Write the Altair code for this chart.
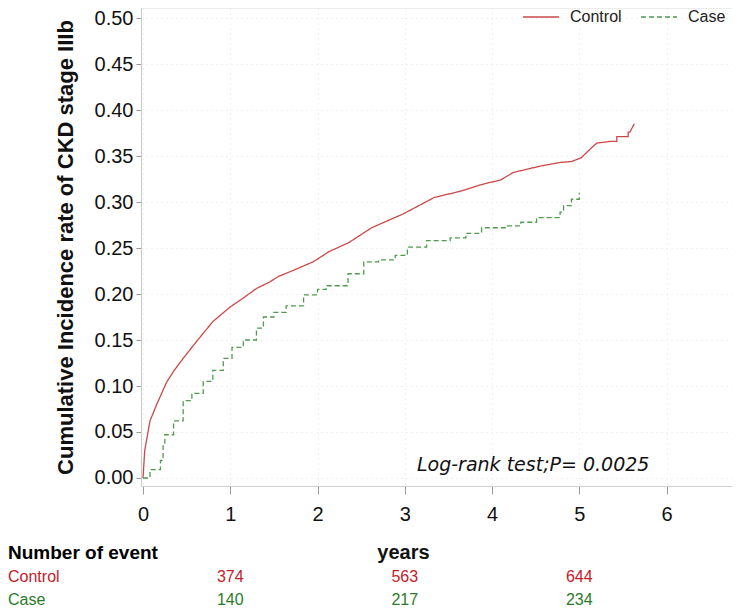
import altair as alt
import pandas as pd

# ---- data ----
ctrl_t = [0, 0.02, 0.08, 0.157, 0.27, 0.35, 0.46, 0.61, 0.8, 1.0, 1.14, 1.3, 1.45, 1.55, 1.73, 1.95,
          2.13, 2.36, 2.62, 2.98, 3.16, 3.34, 3.65, 3.88, 4.1, 4.24, 4.55, 4.78, 4.91, 5.02, 5.13,
          5.2, 5.36, 5.43, 5.43, 5.56, 5.56, 5.58, 5.63]
ctrl_v = [0, 0.03, 0.062, 0.08, 0.104, 0.116, 0.13, 0.148, 0.17, 0.186, 0.195, 0.206, 0.213, 0.219,
          0.226, 0.235, 0.246, 0.256, 0.272, 0.287, 0.296, 0.305, 0.312, 0.319, 0.324, 0.332, 0.339,
          0.343, 0.344, 0.348, 0.358, 0.364, 0.366, 0.366, 0.371, 0.371, 0.376, 0.376, 0.385]

case_t = [0, 0.08, 0.2, 0.23, 0.25, 0.35, 0.46, 0.56, 0.69, 0.8, 0.92, 1.02, 1.15, 1.3, 1.38, 1.5,
          1.64, 1.84, 2.0, 2.1, 2.35, 2.53, 2.7, 2.89, 3.03, 3.25, 3.52, 3.7, 3.88, 4.15, 4.33, 4.51,
          4.78, 4.82, 4.91, 5.0]
case_v = [0, 0.009, 0.019, 0.035, 0.047, 0.062, 0.084, 0.092, 0.105, 0.117, 0.13, 0.142, 0.15, 0.163,
          0.175, 0.18, 0.187, 0.199, 0.205, 0.209, 0.222, 0.235, 0.237, 0.242, 0.251, 0.258, 0.261,
          0.266, 0.272, 0.274, 0.278, 0.283, 0.289, 0.296, 0.303, 0.31]

series_names = ["Control", "Case"]
line_colors = ["#cc4848", "#4f9a4f"]
text_colors = ["#c4202a", "#2a7a2a"]

event_years = [1, 3, 5]
control_events = [374, 563, 644]
case_events = [140, 217, 234]

x_ticks = [0, 1, 2, 3, 4, 5, 6]
y_ticks = [0, 0.05, 0.10, 0.15, 0.20, 0.25, 0.30, 0.35, 0.40, 0.45, 0.50]

annot_text = ["Log-rank test;P= 0.0025"]
annot_t = [3.14]
annot_v = [0.014]

FONT = "Liberation Sans"

ctrl_df = pd.DataFrame({"t": ctrl_t, "v": ctrl_v, "series": "Control"})
case_df = pd.DataFrame({"t": case_t, "v": case_v, "series": "Case"})

xscale = alt.Scale(domain=[-0.023, 6.75], nice=False, zero=False)
yscale = alt.Scale(domain=[-0.0087, 0.5109], nice=False, zero=False)

leg = alt.Legend(orient="none", legendX=381, legendY=-10, direction="horizontal",
                 symbolType="stroke", symbolSize=1296, symbolStrokeWidth=1.5,
                 labelFontSize=16, labelFont=FONT, labelColor="#222",
                 labelOffset=10, columnPadding=16, padding=0)
color_enc = alt.Color("series:N", title=None,
                      scale=alt.Scale(domain=series_names, range=line_colors), legend=leg)
dash_enc = alt.StrokeDash("series:N", title=None,
                          scale=alt.Scale(domain=series_names, range=[[1, 0], [5, 3]]), legend=leg)

x_enc = alt.X("t:Q", scale=xscale,
              axis=alt.Axis(values=x_ticks, format="d", title="years", titleFont=FONT, titleFontSize=20,
                            titleFontWeight="bold", titleColor="#111", titleX=262, titleY=72,
                            titleBaseline="alphabetic", titleAnchor="start", titleAlign="center",
                            labelFont=FONT, labelFontSize=20, labelColor="#111", labelPadding=10,
                            tickSize=8, tickColor="#999", domainColor="#d0d0d0",
                            grid=True, gridColor="#e2e2e2", gridDash=[1, 4]))
y_enc = alt.Y("v:Q", scale=yscale,
              axis=alt.Axis(values=y_ticks, format=".2f",
                            title="Cumulative Incidence rate of CKD stage IIIb", titleFont=FONT,
                            titleFontSize=22, titleFontWeight="bold", titleColor="#111", titlePadding=17,
                            labelFont=FONT, labelFontSize=20, labelColor="#111", labelPadding=3,
                            tickSize=5, tickColor="#999", domainColor="#c8c8c8",
                            grid=True, gridColor="#e2e2e2", gridDash=[1, 4]))

ctrl_line = alt.Chart(ctrl_df).mark_line(strokeWidth=1.3).encode(
    x=x_enc, y=y_enc, color=color_enc, strokeDash=dash_enc)
case_line = alt.Chart(case_df).mark_line(strokeWidth=1.3, interpolate="step-after").encode(
    x=alt.X("t:Q", scale=xscale), y=alt.Y("v:Q", scale=yscale), color=color_enc, strokeDash=dash_enc)

annot_df = pd.DataFrame({"t": annot_t, "v": annot_v, "label": annot_text})
annot = alt.Chart(annot_df).mark_text(align="left", baseline="middle", font="DejaVu Sans",
                                       fontStyle="italic", fontSize=19, color="#111").encode(
    x=alt.X("t:Q", scale=xscale), y=alt.Y("v:Q", scale=yscale), text="label:N")

ev_ctrl = pd.DataFrame({"t": event_years, "n": control_events})
ev_case = pd.DataFrame({"t": event_years, "n": case_events})
ctrl_nums = alt.Chart(ev_ctrl).mark_text(font=FONT, fontSize=16, color=text_colors[0],
                                         baseline="middle").encode(
    x=alt.X("t:Q", scale=xscale), y=alt.value(569), text="n:Q")
case_nums = alt.Chart(ev_case).mark_text(font=FONT, fontSize=16, color=text_colors[1],
                                         baseline="middle").encode(
    x=alt.X("t:Q", scale=xscale), y=alt.value(592), text="n:Q")

hdr = alt.Chart(pd.DataFrame({"label": ["Number of event"]})).mark_text(
    font=FONT, fontSize=19, fontWeight="bold", color="#000", align="left", baseline="middle").encode(
    x=alt.value(-133), y=alt.value(545), text="label:N")
row_ctrl = alt.Chart(pd.DataFrame({"label": [series_names[0]]})).mark_text(
    font=FONT, fontSize=16, color=text_colors[0], align="left", baseline="middle").encode(
    x=alt.value(-133), y=alt.value(569), text="label:N")
row_case = alt.Chart(pd.DataFrame({"label": [series_names[1]]})).mark_text(
    font=FONT, fontSize=16, color=text_colors[1], align="left", baseline="middle").encode(
    x=alt.value(-133), y=alt.value(592), text="label:N")

chart = alt.layer(ctrl_line, case_line, annot, ctrl_nums, case_nums, hdr, row_ctrl, row_case).properties(
    width=591, height=478,
    autosize=alt.AutoSizeParams(type="none"),
    padding={"left": 133, "top": 0, "right": 0, "bottom": 122},
    background="white",
).configure_view(stroke="#ececec")

chart.save("out.html", embed_options={"renderer": "svg", "actions": False})
